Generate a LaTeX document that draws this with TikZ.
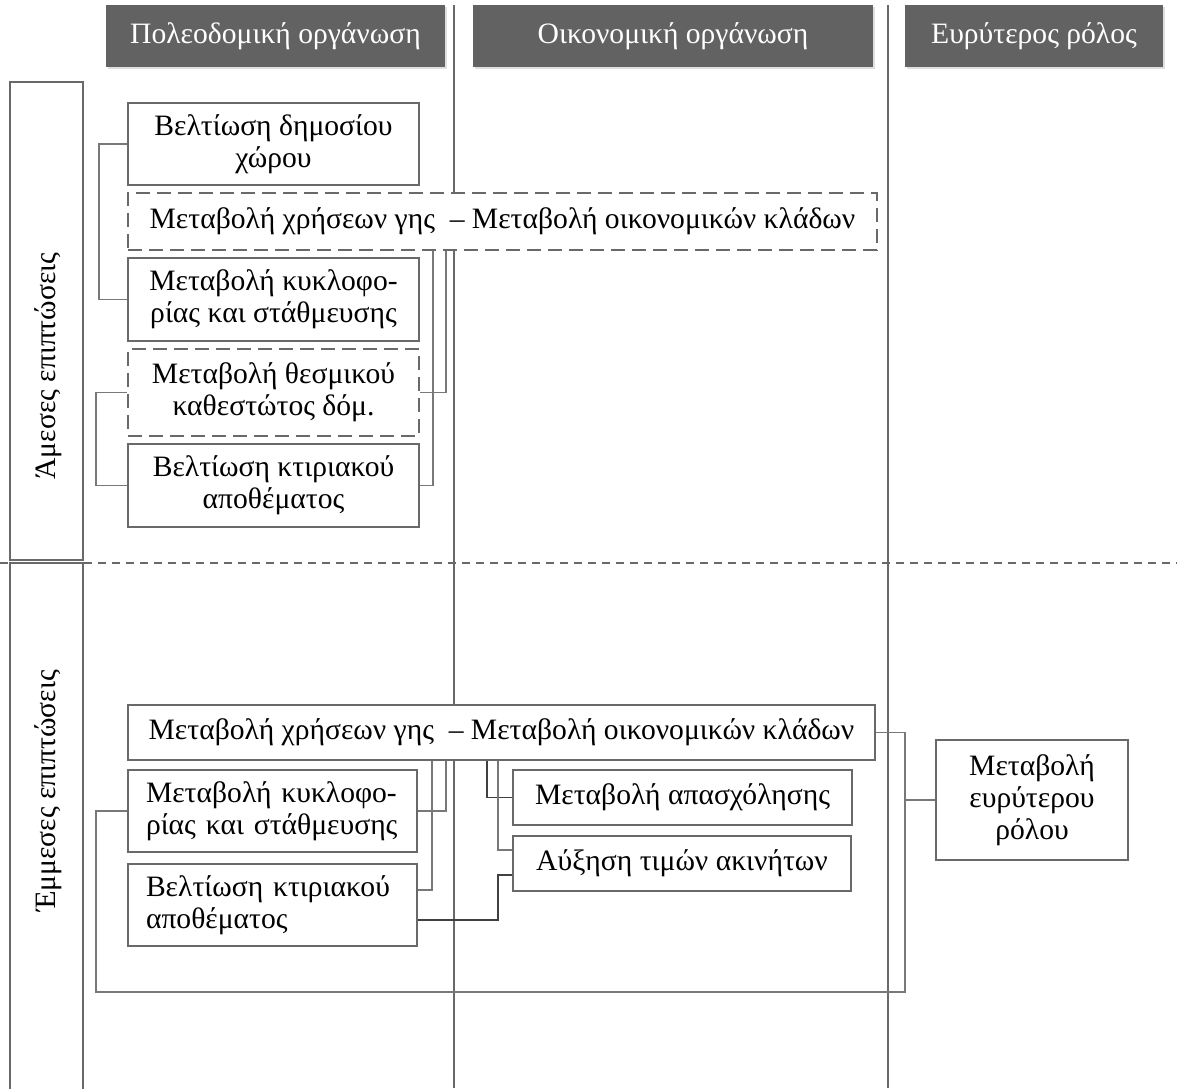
\documentclass[tikz,border=0pt]{standalone}
\usepackage{fontspec}
\setmainfont{Liberation Serif}
\usetikzlibrary{shadows}
\definecolor{hdrgray}{RGB}{98,98,98}
\definecolor{boxgray}{RGB}{105,105,105}
\definecolor{wiregray}{RGB}{120,120,120}

\begin{document}
\begin{tikzpicture}[x=0.5pt, y=-0.5pt,
  hdr/.style={fill=hdrgray, text=white, font=\fontsize{14.8}{16}\selectfont, minimum height=31pt, inner sep=0pt,
    drop shadow={opacity=0.25, shadow xshift=0.8pt, shadow yshift=-0.8pt}},
  box/.style={draw=boxgray, line width=1pt, fill=white, font=\fontsize{14.8}{16}\selectfont, align=center, inner sep=0pt},
  dbox/.style={box, dash pattern=on 7pt off 3.5pt},
  lbox/.style={box, align=left, inner xsep=9pt, text width=126.5pt},
  side/.style={font=\fontsize{14.8}{16}\selectfont, rotate=90},
  wire/.style={draw=wiregray, line width=0.75pt},
  dkwire/.style={draw=black!75, line width=0.75pt},
  frame/.style={draw=boxgray, line width=1pt}]
\useasboundingbox (0,0) rectangle (1177,1088);

\draw[frame, line width=1.2pt] (454,5) -- (454,1088);
\draw[frame, line width=1.2pt] (888,5) -- (888,1088);
\draw[draw=boxgray, line width=0.8pt, dash pattern=on 4pt off 3pt] (0,563) -- (1177,563);
\draw[frame] (10,82) rectangle (83,560);
\draw[frame] (10,1090) -- (10,563) -- (83,563) -- (83,1090);

\node[hdr, minimum width=169.5pt] (h1) at (275.5,36) {Πολεοδομική οργάνωση};
\node[hdr, minimum width=200pt] (h2) at (673,36) {Οικονομική οργάνωση};
\node[hdr, minimum width=129pt] (h3) at (1034,36) {Ευρύτερος ρόλος};

\node[side] (s1) at (48,366) {Άμεσες επιπτώσεις};
\node[side] (s2) at (48,791) {Έμμεσες επιπτώσεις};

\node[box, minimum width=145.5pt, minimum height=41pt] (b1) at (273.5,144) {Βελτίωση δημοσίου\\χώρου};
\node[dbox, minimum width=374.5pt, minimum height=28.5pt] (d1) at (502.5,221.5) {Μεταβολή χρήσεων γης~ – Μεταβολή οικονομικών κλάδων};
\node[box, minimum width=145.5pt, minimum height=41.5pt] (b2) at (273.5,299.5) {Μεταβολή κυκλοφο-\\ρίας και στάθμευσης};
\node[dbox, minimum width=145.5pt, minimum height=43.5pt] (d2) at (273.5,392.5) {Μεταβολή θεσμικού\\καθεστώτος δόμ.};
\node[box, minimum width=145.5pt, minimum height=41.5pt] (b3) at (273.5,485.5) {Βελτίωση κτιριακού\\αποθέματος};

\node[box, minimum width=373.5pt, minimum height=27.5pt] (m1) at (501.5,732.5) {Μεταβολή χρήσεων γης~ – Μεταβολή οικονομικών κλάδων};
\node[lbox, minimum width=144.5pt, minimum height=41pt] (c1) at (272.5,811) {Μεταβολή κυκλοφο-\\ρίας και στάθμευσης};
\node[lbox, minimum width=144.5pt, minimum height=41pt] (c2) at (272.5,905) {Βελτίωση κτιριακού\\αποθέματος};
\node[box, minimum width=169.5pt, minimum height=27.5pt] (e1) at (682.5,797.5) {Μεταβολή απασχόλησης};
\node[box, minimum width=169pt, minimum height=27.5pt] (e2) at (682,863.5) {Αύξηση τιμών ακινήτων};
\node[box, minimum width=96pt, minimum height=60pt] (r1) at (1032,800) {Μεταβολή\\ευρύτερου\\ρόλου};

\draw[wire] (b1.west) -- ++(-28,0) |- (b2.west);
\draw[wire] (d2.west) -- ++(-31,0) |- (b3.west);
\draw[wire] (b3.east) -- ++(13,0) coordinate (u1) -- (u1 |- d1.south);
\draw[wire] (d2.east) -- ++(26,0) coordinate (u2) -- (u2 |- d1.south);

\coordinate (lp) at (905,992);
\draw[wire] (c1.east) -- ++(28,0) coordinate (v1) -- (v1 |- m1.south);
\draw[wire] ([yshift=7.5pt]c2.east) -- ++(14,0) coordinate (v2) -- (v2 |- m1.south);
\draw[dkwire] (e1.west) -- ++(-25,0) coordinate (v3) -- (v3 |- m1.south);
\draw[wire] ([yshift=6.75pt]e2.west) -- ++(-14,0) coordinate (v4) -- (v4 |- m1.south);
\draw[dkwire] ([yshift=-7.5pt]c2.east) -- ++(80,0) |- ([yshift=-5.75pt]e2.west);
\draw[wire] (c1.west) -- ++(-31,0) |- (lp) |- (m1.east);
\draw[wire] (r1.west) -- (r1.west -| lp);
\end{tikzpicture}
\end{document}
